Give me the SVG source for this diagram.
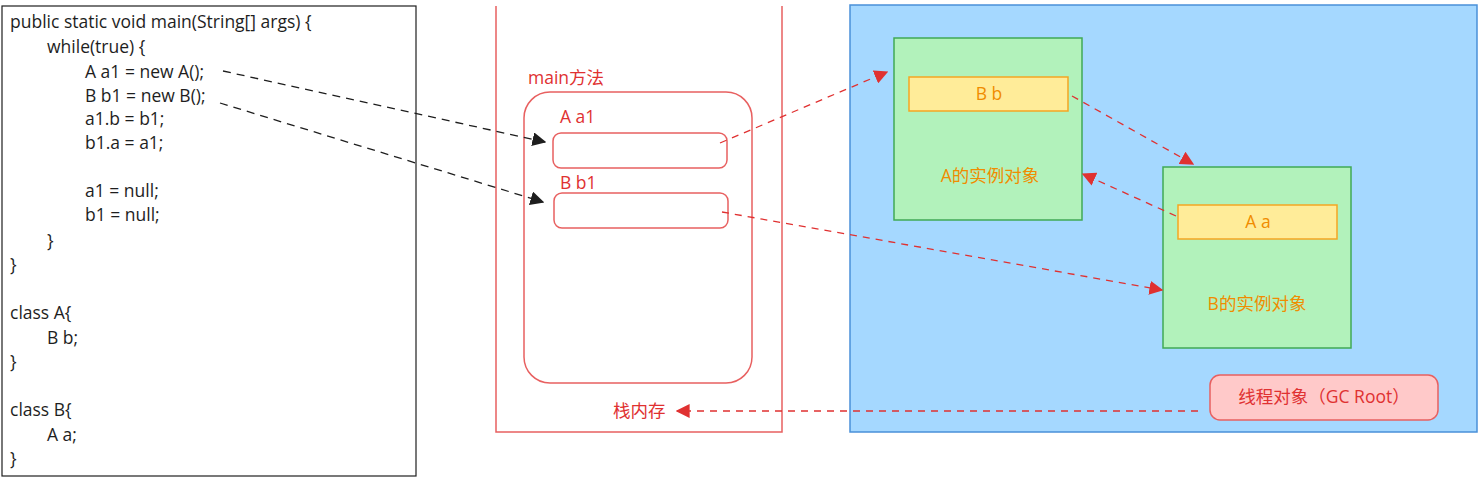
<svg xmlns="http://www.w3.org/2000/svg" width="1484" height="482" viewBox="0 0 1484 482">
<style>
.code{font-family:"Open Sans","Noto Sans",sans-serif;font-size:17.5px;fill:#1e1e1e}
.red{font-family:"Open Sans","Noto Sans CJK SC",sans-serif;font-size:17.5px;fill:#e03131}
.org{font-family:"Open Sans","Noto Sans CJK SC",sans-serif;font-size:17.5px;fill:#f08c00;text-anchor:middle}
.rs{fill:none;stroke:#e86060;stroke-width:1.5}
.dk{fill:none;stroke:#1e1e1e;stroke-width:1.3;stroke-dasharray:8 6}
.dr{fill:none;stroke:#e03131;stroke-width:1.3;stroke-dasharray:7 6}
</style>
<defs>
<marker id="ab" viewBox="0 0 10 10" refX="9" refY="5" markerWidth="14" markerHeight="14" markerUnits="userSpaceOnUse" orient="auto"><path d="M0,0 L10,5 L0,10 z" fill="#1e1e1e"/></marker>
<marker id="ar" viewBox="0 0 10 10" refX="9" refY="5" markerWidth="14" markerHeight="14" markerUnits="userSpaceOnUse" orient="auto"><path d="M0,0 L10,5 L0,10 z" fill="#e03131"/></marker>
</defs>
<rect width="1484" height="482" fill="#ffffff"/>
<g id="code">
<rect x="2" y="6" width="414" height="470" fill="#ffffff" stroke="#1e1e1e" stroke-width="1.2"/>
<text class="code" x="10" y="28">public static void main(String[] args) {</text>
<text class="code" x="47" y="53">while(true) {</text>
<text class="code" x="85" y="78">A a1 = new A();</text>
<text class="code" x="85" y="102">B b1 = new B();</text>
<text class="code" x="85" y="125">a1.b = b1;</text>
<text class="code" x="85" y="149">b1.a = a1;</text>
<text class="code" x="85" y="197">a1 = null;</text>
<text class="code" x="85" y="221">b1 = null;</text>
<text class="code" x="47" y="247">}</text>
<text class="code" x="10" y="271">}</text>
<text class="code" x="10" y="319">class A{</text>
<text class="code" x="47" y="344">B b;</text>
<text class="code" x="10" y="368">}</text>
<text class="code" x="10" y="416">class B{</text>
<text class="code" x="47" y="441">A a;</text>
<text class="code" x="10" y="465">}</text>
</g>
<g id="stack">
<path class="rs" d="M496,6 V432 H782 V6"/>
<text class="red" x="613" y="417">栈内存</text>
</g>
<g id="main">
<rect class="rs" x="524" y="92" width="228" height="291" rx="26"/>
<text class="red" x="528" y="84">main方法</text>
</g>
<g id="a1">
<text class="red" x="560" y="123">A a1</text>
<rect class="rs" x="553" y="133" width="174" height="35" rx="8"/>
</g>
<g id="b1">
<text class="red" x="560" y="189">B b1</text>
<rect class="rs" x="554" y="193" width="174" height="35" rx="8"/>
</g>
<g id="heap">
<rect x="850" y="5" width="627" height="427" fill="#a5d8ff" stroke="#4a90d9" stroke-width="1.5"/>
</g>
<g id="objA">
<rect x="894" y="38" width="188" height="182" fill="#b2f2bb" stroke="#40a956" stroke-width="1.5"/>
<text class="org" x="990" y="182">A的实例对象</text>
</g>
<g id="fieldB">
<rect x="909" y="77" width="159" height="34" fill="#ffec99" stroke="#f5a623" stroke-width="1.5"/>
<text class="org" x="989" y="100">B b</text>
</g>
<g id="objB">
<rect x="1163" y="167" width="188" height="181" fill="#b2f2bb" stroke="#40a956" stroke-width="1.5"/>
<text class="org" x="1257" y="310">B的实例对象</text>
</g>
<g id="fieldA">
<rect x="1178" y="205" width="159" height="34" fill="#ffec99" stroke="#f5a623" stroke-width="1.5"/>
<text class="org" x="1258" y="228">A a</text>
</g>
<g id="thread">
<rect x="1210" y="375" width="228" height="45" rx="10" fill="#ffc9c9" stroke="#e86060" stroke-width="1.5"/>
<text class="red" x="1324" y="403" text-anchor="middle">线程对象（GC Root）</text>
</g>
<g id="connectors">
<path class="dk" d="M223,71 L545,142" marker-end="url(#ab)"/>
<path class="dk" d="M220,103 L543,202" marker-end="url(#ab)"/>
<path class="dr" d="M720,143 L887,72" marker-end="url(#ar)"/>
<path class="dr" d="M722,212 L1162,290" marker-end="url(#ar)"/>
<path class="dr" d="M1072,96 L1193,164" marker-end="url(#ar)"/>
<path class="dr" d="M1176,216 L1083,174" marker-end="url(#ar)"/>
<path class="dr" d="M1198,411 L677,411" marker-end="url(#ar)" stroke-width="1.6"/>
</g>
</svg>
